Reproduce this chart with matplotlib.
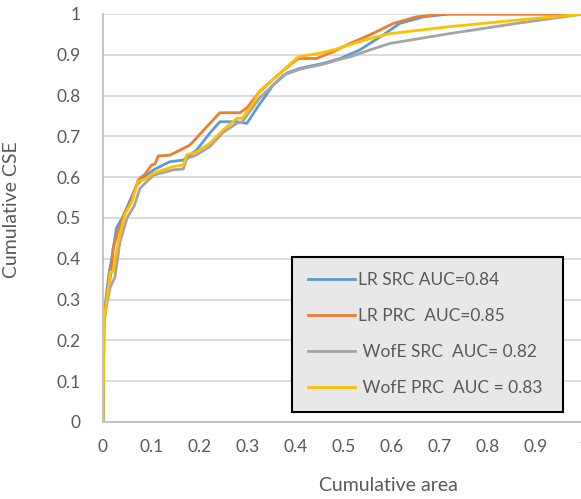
import matplotlib.pyplot as plt

# cumulative area vs cumulative CSE
lr_src_x = [0, 0.002, 0.006, 0.012, 0.018, 0.028, 0.04, 0.055, 0.07, 0.085, 0.105, 0.139,
            0.167, 0.195, 0.222, 0.243, 0.278, 0.299, 0.326, 0.354, 0.382, 0.41, 0.458,
            0.493, 0.534, 0.555, 0.583, 0.617, 0.666, 0.72, 1.0]
lr_src_y = [0, 0.25, 0.30, 0.36, 0.40, 0.475, 0.50, 0.54, 0.58, 0.60, 0.618, 0.638,
            0.642, 0.667, 0.708, 0.736, 0.736, 0.732, 0.78, 0.826, 0.855, 0.867, 0.879,
            0.891, 0.912, 0.928, 0.949, 0.977, 0.993, 1.0, 1.0]

lr_prc_x = [0, 0.002, 0.008, 0.0175, 0.021, 0.032, 0.046, 0.06, 0.073, 0.087, 0.101, 0.108,
            0.115, 0.139, 0.153, 0.181, 0.216, 0.243, 0.285, 0.299, 0.326, 0.368, 0.406,
            0.444, 0.479, 0.514, 0.555, 0.604, 0.652, 0.707, 1.0]
lr_prc_y = [0, 0.25, 0.31, 0.37, 0.426, 0.47, 0.515, 0.544, 0.593, 0.607, 0.63, 0.632,
            0.652, 0.654, 0.662, 0.679, 0.724, 0.758, 0.758, 0.77, 0.81, 0.855, 0.891,
            0.891, 0.908, 0.928, 0.949, 0.977, 0.993, 1.0, 1.0]

wofe_src_x = [0, 0.002, 0.008, 0.015, 0.025, 0.035, 0.05, 0.065, 0.077, 0.105, 0.146,
              0.167, 0.174, 0.195, 0.222, 0.25, 0.278, 0.29, 0.326, 0.375, 0.41, 0.458,
              0.493, 0.514, 0.555, 0.597, 0.721, 0.86, 1.0]
wofe_src_y = [0, 0.24, 0.29, 0.33, 0.356, 0.44, 0.50, 0.53, 0.573, 0.605, 0.618,
              0.62, 0.645, 0.655, 0.675, 0.71, 0.732, 0.736, 0.795, 0.85, 0.865, 0.877,
              0.889, 0.895, 0.912, 0.928, 0.952, 0.977, 1.0]

wofe_prc_x = [0, 0.002, 0.008, 0.015, 0.021, 0.025, 0.035, 0.046, 0.06, 0.073, 0.087,
              0.105, 0.146, 0.167, 0.174, 0.195, 0.222, 0.25, 0.278, 0.29, 0.312, 0.326,
              0.368, 0.406, 0.451, 0.479, 0.514, 0.555, 0.597, 0.721, 0.86, 1.0]
wofe_prc_y = [0, 0.25, 0.30, 0.368, 0.368, 0.40, 0.46, 0.51, 0.54, 0.59, 0.595,
              0.61, 0.626, 0.63, 0.655, 0.662, 0.683, 0.716, 0.744, 0.745, 0.781, 0.812,
              0.855, 0.895, 0.904, 0.912, 0.925, 0.94, 0.952, 0.969, 0.985, 1.0]

labels = ["LR SRC AUC=0.84", "LR PRC  AUC=0.85", " WofE SRC  AUC= 0.82", " WofE PRC  AUC = 0.83"]
colors = ["#5B9BD5", "#ED7D31", "#A5A5A5", "#FFC000"]
ticks = [0, 0.1, 0.2, 0.3, 0.4, 0.5, 0.6, 0.7, 0.8, 0.9, 1]
tick_labels = ["0", "0.1", "0.2", "0.3", "0.4", "0.5", "0.6", "0.7", "0.8", "0.9", "1"]

plt.rcParams['font.family'] = ['Lato', 'DejaVu Sans']
txt = "#595959"

fig = plt.figure(figsize=(5.81, 4.99), dpi=100)
ax = fig.add_axes([103 / 581, 77 / 499, 481 / 581, 408 / 499])

series = [(lr_src_x, lr_src_y), (lr_prc_x, lr_prc_y),
          (wofe_src_x, wofe_src_y), (wofe_prc_x, wofe_prc_y)]
for (x, y), c, lab in zip(series, colors, labels):
    ax.plot(x, y, color=c, lw=2.0, label=lab, solid_joinstyle='round')

ax.set_xlim(0, 1)
ax.set_ylim(0, 1)
ax.set_xticks(ticks)
ax.set_xticklabels(tick_labels)
ax.set_yticks(ticks)
ax.set_yticklabels(tick_labels)
ax.tick_params(length=0, labelsize=12.5, labelcolor=txt)
ax.tick_params(axis='x', pad=12)
ax.tick_params(axis='y', pad=16)
ax.yaxis.grid(True, color="#d9d9d9", lw=1.3)
ax.set_axisbelow(True)
for s in ["top", "right"]:
    ax.spines[s].set_visible(False)
for s in ["left", "bottom"]:
    ax.spines[s].set_color("#bfbfbf")
    ax.spines[s].set_linewidth(1.3)

ax.set_xlabel("Cumulative area", fontsize=14, color=txt)
ax.xaxis.set_label_coords((388 - 103) / 481, -0.135)
ax.set_ylabel("Cumulative CSE", fontsize=14, color=txt)
ax.yaxis.set_label_coords(-(103 - 20) / 481, 0.52)

leg = ax.legend(loc='lower left', bbox_to_anchor=(0.393, 0.0245, 0.563, 0.3675),
                mode='expand', fontsize=12.5, frameon=True, fancybox=False,
                handlelength=2.7, handletextpad=0.2, labelspacing=1.15,
                borderpad=0.9, borderaxespad=0)
leg.get_frame().set_facecolor("#e8e8e8")
leg.get_frame().set_edgecolor("black")
leg.get_frame().set_linewidth(1.5)
leg.get_frame().set_alpha(1)
for t in leg.get_texts():
    t.set_color(txt)

fig.savefig("out.png", dpi=100)
